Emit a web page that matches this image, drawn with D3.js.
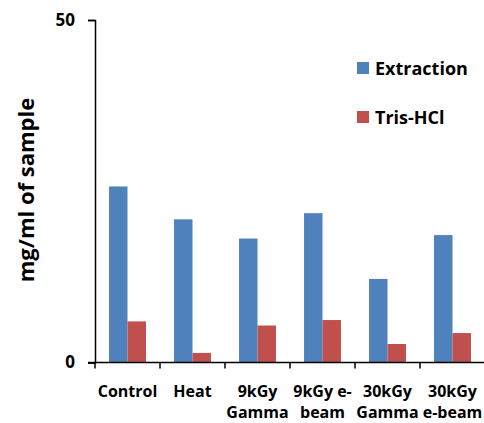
<!DOCTYPE html>
<html lang="en">
<head>
    <meta charset="UTF-8">
    <title>mg/ml of sample</title>
    <script src="https://d3js.org/d3.v7.min.js" charset="utf-8"></script>
    <style>
        body {
            margin: 0;
            background: #fff;
        }
        text {
            font-family: "Open Sans", "Liberation Sans", sans-serif;
            font-weight: bold;
            fill: #000;
        }
    </style>
</head>
<body>
    <script>
        var width = 484;
        var height = 423;

        // values
        var categories = ["Control", "Heat", "9kGy Gamma", "9kGy e-beam", "30kGy Gamma", "30kGy e-beam"];
        var labelLines = [["Control"], ["Heat"], ["9kGy", "Gamma"], ["9kGy e-", "beam"], ["30kGy", "Gamma"], ["30kGy", "e-beam"]];
        var series = ["Extraction", "Tris-HCl"];
        var extraction = [25.7, 20.9, 18.1, 21.8, 12.2, 18.6];
        var trisHCl = [6.0, 1.4, 5.4, 6.2, 2.7, 4.3];
        var yTicks = [0, 50];
        var colors = ["#4F81BD", "#C0504D"];

        var margin = {top: 20, right: 0, bottom: 60, left: 95};

        var svg = d3.select("body")
            .append("svg")
            .attr("width", width)
            .attr("height", height);

        var x0 = d3.scaleBand()
            .domain(categories)
            .range([margin.left, 485])
            .padding(0);

        var x1 = d3.scaleBand()
            .domain(series)
            .range([0, x0.bandwidth()])
            .paddingInner(0)
            .paddingOuter(0.76);

        var y = d3.scaleLinear()
            .domain([0, 50])
            .range([362.5, margin.top]);

        var color = d3.scaleOrdinal().domain(series).range(colors);

        var rows = categories.map(function(c, i) {
            return {cat: c, values: [
                {key: series[0], value: extraction[i]},
                {key: series[1], value: trisHCl[i]}
            ]};
        });

        // bars
        var groups = svg.append("g")
            .selectAll("g")
            .data(rows)
            .enter()
            .append("g")
            .attr("transform", function(d) { return "translate(" + x0(d.cat) + ",0)"; });

        groups.selectAll("rect")
            .data(function(d) { return d.values; })
            .enter()
            .append("rect")
            .attr("x", function(d) { return x1(d.key); })
            .attr("y", function(d) { return y(d.value); })
            .attr("width", x1.bandwidth())
            .attr("height", function(d) { return y(0) - y(d.value); })
            .attr("fill", function(d) { return color(d.key); });

        // y axis
        var yAxis = svg.append("g")
            .attr("transform", "translate(" + margin.left + ",0)")
            .call(d3.axisLeft(y).tickValues(yTicks).tickSize(7).tickPadding(13).tickFormat(d3.format("d")));
        yAxis.select(".domain").attr("stroke", "#000").attr("stroke-width", 1.5);
        yAxis.selectAll(".tick line").attr("stroke", "#000").attr("stroke-width", 1.5);
        yAxis.selectAll(".tick text").style("font-size", "17px").attr("fill", "#000");

        // x axis: ticks at band edges
        var xAxis = svg.append("g");
        xAxis.append("line")
            .attr("x1", margin.left - 7)
            .attr("x2", 485)
            .attr("y1", y(0))
            .attr("y2", y(0))
            .attr("stroke", "#000")
            .attr("stroke-width", 1.5);

        var edges = categories.map(function(c) { return x0(c); }).concat([x0.range()[1]]);
        xAxis.selectAll(".edge")
            .data(edges)
            .enter()
            .append("line")
            .attr("class", "edge")
            .attr("x1", function(d) { return d; })
            .attr("x2", function(d) { return d; })
            .attr("y1", y(0))
            .attr("y2", y(0) + 6)
            .attr("stroke", "#000")
            .attr("stroke-width", 1.5);

        var labels = xAxis.selectAll(".cat")
            .data(labelLines)
            .enter()
            .append("text")
            .attr("class", "cat")
            .attr("text-anchor", "middle")
            .style("font-size", "16px")
            .attr("transform", function(d, i) {
                return "translate(" + (x0(categories[i]) + x0.bandwidth() / 2) + "," + (y(0) + 34.5) + ")";
            });
        labels.selectAll("tspan")
            .data(function(d) { return d; })
            .enter()
            .append("tspan")
            .attr("x", 0)
            .attr("dy", function(d, i) { return i === 0 ? 0 : 21; })
            .text(function(d) { return d; });

        // y title
        svg.append("text")
            .attr("transform", "translate(34,190) rotate(-90)")
            .attr("text-anchor", "middle")
            .style("font-size", "22px")
            .text("mg/ml of sample");

        // legend
        var legend = svg.append("g")
            .selectAll("g")
            .data(series)
            .enter()
            .append("g")
            .attr("transform", function(d, i) { return "translate(357," + (62 + i * 49) + ")"; });

        legend.append("rect")
            .attr("width", 12)
            .attr("height", 12)
            .attr("fill", function(d) { return color(d); });

        legend.append("text")
            .attr("x", 18)
            .attr("y", 13)
            .style("font-size", "18px")
            .text(function(d) { return d; });
    </script>
</body>
</html>
